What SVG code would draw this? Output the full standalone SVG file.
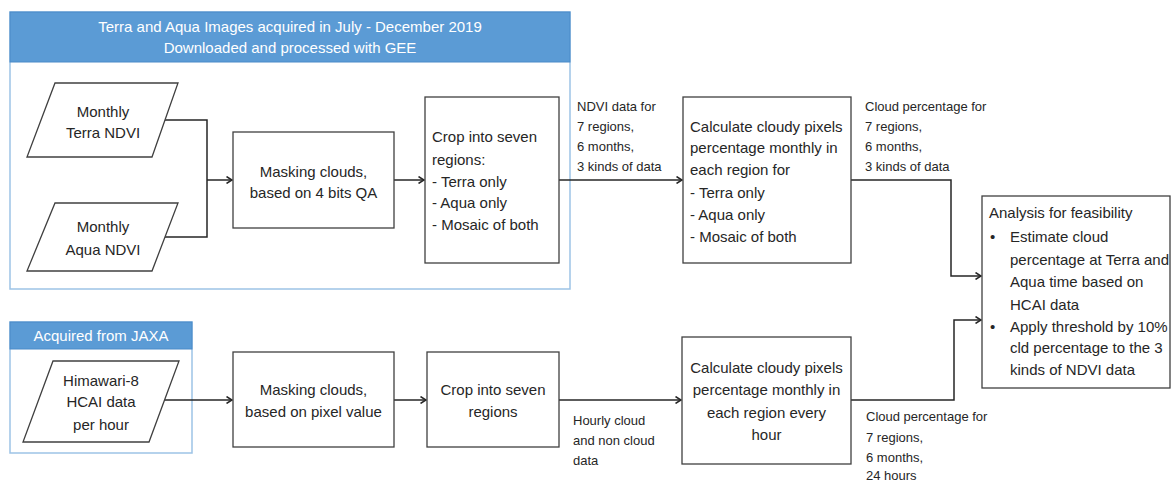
<svg xmlns="http://www.w3.org/2000/svg" width="1172" height="482" viewBox="0 0 1172 482">
<style>
.grp{fill:#fff;stroke:#9dc3e6;stroke-width:1.5}
.ban{fill:#5b9bd5;stroke:#4a8ac8;stroke-width:1}
.bt{font-family:"Liberation Sans",Arial,sans-serif;font-size:15px;fill:#fff;text-anchor:middle}
.box{fill:#fff;stroke:#404040;stroke-width:1.3}
.t{font-family:"Liberation Sans",Arial,sans-serif;font-size:15px;fill:#262626}
.c{text-anchor:middle}
.lb{font-family:"Liberation Sans",Arial,sans-serif;font-size:13px;fill:#262626}
.con{fill:none;stroke:#262626;stroke-width:1.5}
</style>
<defs>
<marker id="arr" markerWidth="8" markerHeight="8" refX="6.5" refY="4" orient="auto" markerUnits="userSpaceOnUse">
<path d="M1,0.5 L6.5,4 L1,7.5" fill="none" stroke="#262626" stroke-width="1.5"/>
</marker>
</defs>
<rect width="1172" height="482" fill="#fff"/>

<g id="group-gee">
<rect class="grp" x="10" y="12" width="560" height="277"/>
<rect class="ban" x="10" y="12" width="560" height="50"/>
<text class="bt" x="290" y="32">Terra and Aqua Images acquired in July - December 2019</text>
<text class="bt" x="290" y="53">Downloaded and processed with GEE</text>
</g>

<g id="group-jaxa">
<rect class="grp" x="10" y="322" width="182" height="131"/>
<rect class="ban" x="10" y="322" width="182" height="27"/>
<text class="bt" x="101" y="341">Acquired from JAXA</text>
</g>

<g id="connectors">
<path class="con" d="M165,120 H207 V237 H165"/>
<path class="con" d="M207,180 H232" marker-end="url(#arr)"/>
<path class="con" d="M394,180 H424" marker-end="url(#arr)"/>
<path class="con" d="M559,180 H682" marker-end="url(#arr)"/>
<path class="con" d="M851,180 H951 V276 H981" marker-end="url(#arr)"/>
<path class="con" d="M164,400 H232" marker-end="url(#arr)"/>
<path class="con" d="M394,400 H426" marker-end="url(#arr)"/>
<path class="con" d="M559,400 H681" marker-end="url(#arr)"/>
<path class="con" d="M851,400 H954 V320 H981" marker-end="url(#arr)"/>
</g>

<g id="terra-ndvi">
<polygon class="box" points="55,83 178,83 152,157 27,157"/>
<text class="t c" x="103" y="117">Monthly</text>
<text class="t c" x="103" y="138">Terra NDVI</text>
</g>

<g id="aqua-ndvi">
<polygon class="box" points="55,203 178,203 152,271 27,271"/>
<text class="t c" x="103" y="232">Monthly</text>
<text class="t c" x="103" y="255">Aqua NDVI</text>
</g>

<g id="mask-qa">
<rect class="box" x="233" y="132" width="161" height="96"/>
<text class="t c" x="313.5" y="177">Masking clouds,</text>
<text class="t c" x="313.5" y="198">based on 4 bits QA</text>
</g>

<g id="crop-three">
<rect class="box" x="425" y="97" width="134" height="166"/>
<text class="t" x="432" y="142">Crop into seven</text>
<text class="t" x="432" y="165">regions:</text>
<text class="t" x="432" y="187">- Terra only</text>
<text class="t" x="432" y="208">- Aqua only</text>
<text class="t" x="432" y="230">- Mosaic of both</text>
</g>

<text class="lb" x="577" y="111">NDVI data for</text>
<text class="lb" x="577" y="131">7 regions,</text>
<text class="lb" x="577" y="151">6 months,</text>
<text class="lb" x="577" y="171">3 kinds of data</text>

<g id="calc-monthly">
<rect class="box" x="683" y="97" width="168" height="166"/>
<text class="t" x="690" y="132">Calculate cloudy pixels</text>
<text class="t" x="690" y="153">percentage monthly in</text>
<text class="t" x="690" y="175">each region for</text>
<text class="t" x="690" y="198">- Terra only</text>
<text class="t" x="690" y="220">- Aqua only</text>
<text class="t" x="690" y="242">- Mosaic of both</text>
</g>

<text class="lb" x="865" y="111">Cloud percentage for</text>
<text class="lb" x="865" y="131">7 regions,</text>
<text class="lb" x="865" y="151">6 months,</text>
<text class="lb" x="865" y="171">3 kinds of data</text>

<g id="analysis">
<rect class="box" x="982" y="196" width="188" height="192"/>
<text class="t" x="989" y="218">Analysis for feasibility</text>
<text class="t" x="990" y="242">•</text>
<text class="t" x="1010" y="242">Estimate cloud</text>
<text class="t" x="1010" y="265">percentage at Terra and</text>
<text class="t" x="1010" y="287">Aqua time based on</text>
<text class="t" x="1010" y="310">HCAI data</text>
<text class="t" x="990" y="332">•</text>
<text class="t" x="1010" y="332">Apply threshold by 10%</text>
<text class="t" x="1010" y="353">cld percentage to the 3</text>
<text class="t" x="1010" y="375">kinds of NDVI data</text>
</g>

<g id="himawari">
<polygon class="box" points="53,361 179,361 149,442 23,442"/>
<text class="t c" x="101" y="386">Himawari-8</text>
<text class="t c" x="101" y="407">HCAI data</text>
<text class="t c" x="101" y="430">per hour</text>
</g>

<g id="mask-pixel">
<rect class="box" x="233" y="352" width="161" height="95"/>
<text class="t c" x="313.5" y="395">Masking clouds,</text>
<text class="t c" x="313.5" y="417">based on pixel value</text>
</g>

<g id="crop-seven">
<rect class="box" x="427" y="352" width="132" height="95"/>
<text class="t c" x="493" y="395">Crop into seven</text>
<text class="t c" x="493" y="417">regions</text>
</g>

<text class="lb" x="573" y="425">Hourly cloud</text>
<text class="lb" x="573" y="445">and non cloud</text>
<text class="lb" x="573" y="465">data</text>

<g id="calc-hourly">
<rect class="box" x="682" y="337" width="169" height="127"/>
<text class="t c" x="766.5" y="373">Calculate cloudy pixels</text>
<text class="t c" x="766.5" y="395">percentage monthly in</text>
<text class="t c" x="766.5" y="418">each region every</text>
<text class="t c" x="766.5" y="440">hour</text>
</g>

<text class="lb" x="866" y="421">Cloud percentage for</text>
<text class="lb" x="866" y="442">7 regions,</text>
<text class="lb" x="866" y="462">6 months,</text>
<text class="lb" x="866" y="480">24 hours</text>
</svg>
